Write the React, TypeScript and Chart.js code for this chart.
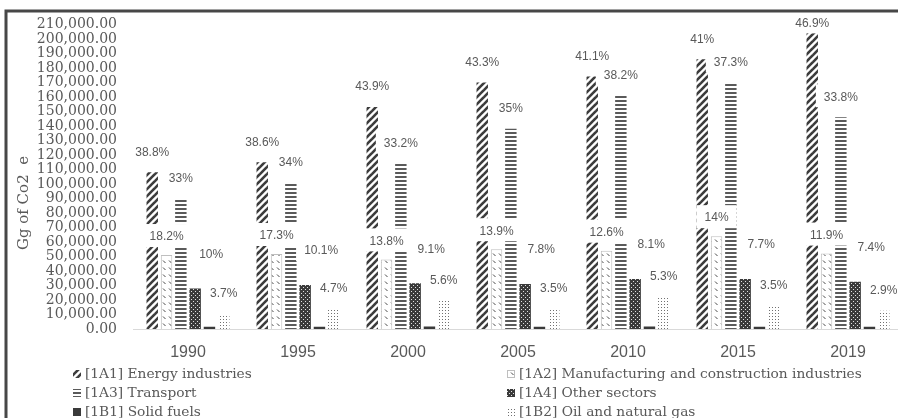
import React, { useEffect, useRef } from 'react';
import { Chart, registerables } from 'chart.js';

Chart.register(...registerables);

// ---- Data ----
const years = ['1990', '1995', '2000', '2005', '2010', '2015', '2019'];

const seriesNames = [
  '[1A1] Energy industries',
  '[1A2] Manufacturing and construction industries',
  '[1A3] Transport',
  '[1A4] Other sectors',
  '[1B1] Solid fuels',
  '[1B2] Oil and natural gas',
];

const energy = [108000, 115000, 153000, 170000, 174000, 186000, 204000];
const manufacturing = [51000, 51700, 48000, 55000, 54000, 64000, 52000];
const transport = [90000, 101000, 114000, 138000, 161000, 170000, 146000];
const otherSectors = [28000, 30300, 31500, 31000, 34500, 34500, 32600];
const solidFuels = [1600, 1600, 1700, 1600, 1700, 1600, 1600];
const oilGas = [10300, 13800, 19500, 14200, 22300, 16200, 12600];

const energyPct = ['38.8%', '38.6%', '43.9%', '43.3%', '41.1%', '41%', '46.9%'];
const manufacturingPct = ['18.2%', '17.3%', '13.8%', '13.9%', '12.6%', '14%', '11.9%'];
const transportPct = ['33%', '34%', '33.2%', '35%', '38.2%', '37.3%', '33.8%'];
const otherPct = ['10%', '10.1%', '9.1%', '7.8%', '8.1%', '7.7%', '7.4%'];
const oilPct = ['3.7%', '4.7%', '5.6%', '3.5%', '5.3%', '3.5%', '2.9%'];

const yMin = 0;
const yMax = 210000;
const yStep = 10000;
const yTitle = 'Gg of Co2  e';

// ---- Styles ----
const GRAY = '#595959';
const LABEL_OFFSETS = [
  { dx: 0, dy: 20 },
  { dx: 0, dy: 18 },
  { dx: 0, dy: 20 },
  { dx: 16, dy: 34 },
  null,
  { dx: 0, dy: 20 },
];

function tile(w: number, h: number, draw: (g: CanvasRenderingContext2D) => void): CanvasPattern {
  const c = document.createElement('canvas');
  c.width = w;
  c.height = h;
  const g = c.getContext('2d') as CanvasRenderingContext2D;
  draw(g);
  return g.createPattern(c, 'repeat') as CanvasPattern;
}

function makePatterns() {
  const energyP = tile(7, 7, (g) => {
    g.fillStyle = '#fff';
    g.fillRect(0, 0, 7, 7);
    g.strokeStyle = '#3c3c3c';
    g.lineWidth = 2.6;
    for (const k of [-7, 0, 7]) {
      g.beginPath();
      g.moveTo(k - 1, 8);
      g.lineTo(k + 8, -1);
      g.stroke();
    }
  });
  const manufP = tile(6, 7, (g) => {
    g.fillStyle = '#fff';
    g.fillRect(0, 0, 6, 7);
    g.strokeStyle = '#4a4a4a';
    g.lineWidth = 1;
    g.beginPath();
    g.moveTo(1, 1.5);
    g.lineTo(3.5, 4);
    g.stroke();
  });
  const transportP = tile(4, 4, (g) => {
    g.fillStyle = '#fff';
    g.fillRect(0, 0, 4, 4);
    g.fillStyle = '#5a5a5a';
    g.fillRect(0, 0, 4, 2);
  });
  const otherP = tile(4, 4, (g) => {
    g.fillStyle = '#3a3a3a';
    g.fillRect(0, 0, 4, 4);
    g.fillStyle = '#e0e0e0';
    g.fillRect(1, 1, 1, 1);
    g.fillRect(3, 3, 1, 1);
  });
  const oilP = tile(3, 3, (g) => {
    g.fillStyle = '#fff';
    g.fillRect(0, 0, 3, 3);
    g.fillStyle = '#707070';
    g.fillRect(1, 1, 1, 1);
  });
  return [energyP, manufP, transportP, otherP, '#3a3a3a', oilP];
}

function fmt(v: number) {
  return Number(v).toLocaleString('en-US', { minimumFractionDigits: 2, maximumFractionDigits: 2 });
}

export default function App() {
  const ref = useRef<HTMLCanvasElement | null>(null);

  useEffect(() => {
    const canvas = ref.current;
    if (!canvas) return;
    const fills = makePatterns();
    const values = [energy, manufacturing, transport, otherSectors, solidFuels, oilGas];
    const pcts = [energyPct, manufacturingPct, transportPct, otherPct, null, oilPct];

    const overlay = {
      id: 'overlay',
      beforeDraw(chart: any) {
        const ctx = chart.ctx;
        ctx.save();
        ctx.fillStyle = '#fff';
        ctx.fillRect(0, 0, chart.width, chart.height);
        ctx.restore();
      },
      afterDatasetsDraw(chart: any) {
        const ctx = chart.ctx;
        ctx.save();
        ctx.font = '12px "Liberation Sans", Arial, sans-serif';
        ctx.textAlign = 'center';
        ctx.textBaseline = 'middle';
        chart.data.datasets.forEach((_ds: any, i: number) => {
          const labels = pcts[i];
          const off = LABEL_OFFSETS[i];
          if (!labels || !off) return;
          const meta = chart.getDatasetMeta(i);
          meta.data.forEach((bar: any, j: number) => {
            const t = labels[j];
            const cx = bar.x + off.dx;
            const cy = Math.max(bar.y - off.dy, chart.chartArea.top - 1);
            const w = ctx.measureText(t).width;
            ctx.fillStyle = '#fff';
            ctx.fillRect(cx - w / 2 - 8, cy - 13, w + 16, 23);
            ctx.fillStyle = GRAY;
            ctx.fillText(t, cx, cy);
          });
        });
        ctx.restore();
      },
      afterDraw(chart: any) {
        const ctx = chart.ctx;
        ctx.save();
        // frame
        ctx.strokeStyle = '#474747';
        ctx.lineWidth = 3;
        ctx.strokeRect(6, 11, chart.width + 40, chart.height + 40);
        // y title
        ctx.save();
        ctx.translate(24, 203);
        ctx.rotate(-Math.PI / 2);
        ctx.font = '15px "DejaVu Serif", serif';
        ctx.fillStyle = GRAY;
        ctx.textAlign = 'center';
        ctx.textBaseline = 'middle';
        ctx.fillText(yTitle, 0, 0);
        ctx.restore();
        // legend
        const cols = [73, 507];
        const rows = [374, 393, 412];
        ctx.font = '13.75px "DejaVu Serif", serif';
        ctx.textBaseline = 'middle';
        ctx.textAlign = 'left';
        seriesNames.forEach((name, i) => {
          const x = cols[i % 2];
          const y = rows[Math.floor(i / 2)];
          ctx.fillStyle = fills[i] as any;
          ctx.fillRect(x, y - 4, 8, 8);
          if (i === 1) {
            ctx.strokeStyle = '#bfbfbf';
            ctx.lineWidth = 1;
            ctx.strokeRect(x + 0.5, y - 3.5, 7, 7);
          }
          ctx.fillStyle = GRAY;
          ctx.fillText(name, x + 12, y);
        });
        ctx.restore();
      },
    };

    const chart = new Chart(canvas, {
      type: 'bar',
      data: {
        labels: years,
        datasets: seriesNames.map((name, i) => ({
          label: name,
          data: values[i],
          backgroundColor: fills[i] as any,
          borderColor: i === 1 ? '#bfbfbf' : 'rgba(0,0,0,0)',
          borderWidth: i === 1 ? 1 : 0,
          categoryPercentage: 0.78,
          barPercentage: 0.8,
        })),
      },
      options: {
        responsive: false,
        animation: false,
        layout: { padding: { top: 24, right: 7, bottom: 59, left: 0 } },
        plugins: { legend: { display: false }, tooltip: { enabled: false } },
        scales: {
          x: {
            grid: { display: false, drawTicks: false },
            border: { display: true, color: '#d9d9d9', width: 1 },
            ticks: {
              font: { family: '"Liberation Sans", Arial, sans-serif', size: 16 },
              color: GRAY,
              padding: 14,
            },
            afterFit(s: any) {
              s.height = 30;
            },
          },
          y: {
            min: yMin,
            max: yMax,
            grid: { display: false, drawTicks: false },
            border: { display: false },
            ticks: {
              stepSize: yStep,
              autoSkip: false,
              font: { family: '"DejaVu Serif", serif', size: 14 },
              color: GRAY,
              padding: 16,
              callback: (v: any) => fmt(v),
            },
            afterFit(s: any) {
              s.width = 133;
            },
          },
        },
      },
      plugins: [overlay],
    });
    return () => chart.destroy();
  }, []);

  return (
    <div style={{ position: 'fixed', left: 0, top: 0, width: 898, height: 418, overflow: 'hidden', background: '#fff' }}>
      <canvas ref={ref} width={910} height={418} style={{ display: 'block', width: 910, height: 418 }} />
    </div>
  );
}
